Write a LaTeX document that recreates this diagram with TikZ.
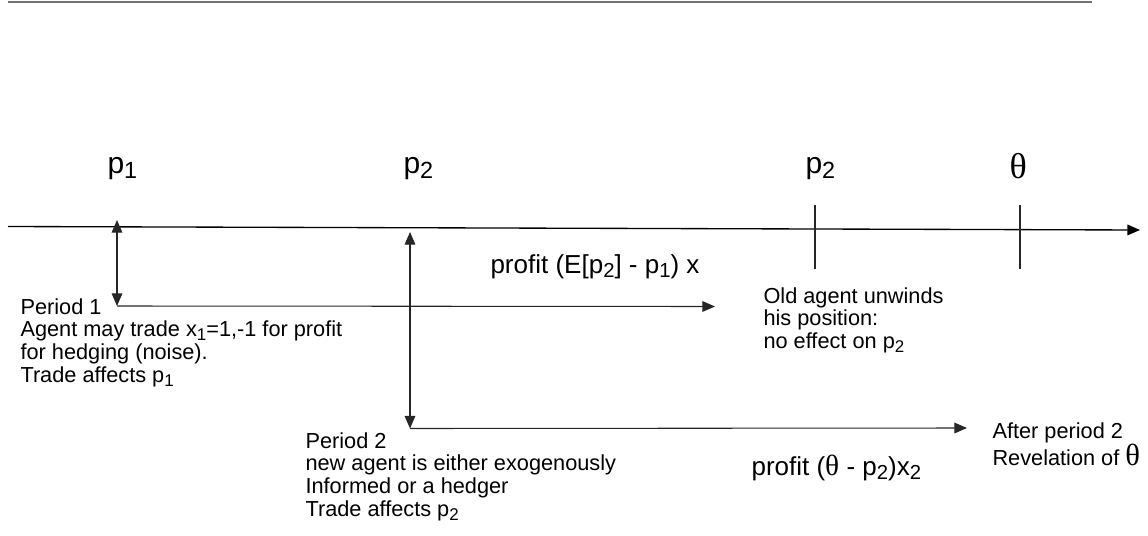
\documentclass[tikz,border=0pt]{standalone}
\usepackage{fontspec}
\setmainfont{Liberation Sans}
\newfontfamily\symfont{Liberation Serif}
\usetikzlibrary{arrows.meta}
\newcommand\lo[1]{\raisebox{-0.33ex}{\scalebox{0.78}{#1}}}
\newcommand\thet{{\fontsize{22pt}{22pt}\symfont θ}}

\begin{document}
\begin{tikzpicture}[x=0.75pt,y=-0.75pt,
    >={Triangle[length=9.5pt,width=8pt]},line width=0.8pt,
    note/.style={anchor=north west,align=left,inner sep=0pt,
        font=\fontsize{16.3pt}{17pt}\selectfont},
    big/.style={anchor=base west,inner sep=0pt,
        font=\fontsize{22.5pt}{24pt}\selectfont},
    gain/.style={anchor=base west,inner sep=0pt,
        font=\fontsize{19.5pt}{21pt}\selectfont}]
    \useasboundingbox (0,0) rectangle (1148,535);
    \draw[black!55,line width=1.2pt] (8,2) -- (1092,2);

    % time line
    \coordinate (tstart) at (8,226.5);
    \coordinate (tend) at (1140,230);
    \draw[->,line width=1pt] (tstart) -- (tend);
    \foreach \x in {815,1020}{
        \draw[black!85] (\x,205) -- (\x,269);
    }

    \node[big] (pone) at (107,173) {p\lo{1}};
    \node[big] (ptwo) at (403,173) {p\lo{2}};
    \node[big] (pthree) at (805,173) {p\lo{2}};
    \node[anchor=base west,inner sep=0pt,font=\fontsize{27pt}{28pt}\symfont]
        (theta) at (1009,178) {θ};

    % period 1
    \coordinate (aup) at (117,220);
    \coordinate (adown) at (117,306);
    \coordinate (aend) at (715,306.5);
    \draw[<->,black!85] (aup) -- (adown);
    \draw[->,black!85] (adown) -- (aend);

    % period 2
    \coordinate (bup) at (410,232);
    \coordinate (bdown) at (410,428.5);
    \coordinate (bend) at (967,428);
    \draw[<->,black!85] (bup) -- (bdown);
    \draw[->,black!85] (bdown) -- (bend);

    \node[gain] (gainone) at (490,273) {profit (E[p\lo{2}] - p\lo{1}) x};
    \node[gain] (gaintwo) at (751,475) {profit (\thet{} - p\lo{2})x\lo{2}};

    \node[note] (perone) at (20,298)
        {Period 1\\Agent may trade x\lo{1}=1,-1 for profit\\
         for hedging (noise).\\Trade affects p\lo{1}};
    \node[note] (unwind) at (763,287)
        {Old agent unwinds\\his position:\\no effect on p\lo{2}};
    \node[note] (pertwo) at (305,432)
        {Period 2\\new agent is either exogenously\\
         Informed or a hedger\\Trade affects p\lo{2}};
    \node[note] (after) at (992,422)
        {After period 2\\Revelation of {\fontsize{23pt}{20pt}\symfont θ}};
\end{tikzpicture}
\end{document}
